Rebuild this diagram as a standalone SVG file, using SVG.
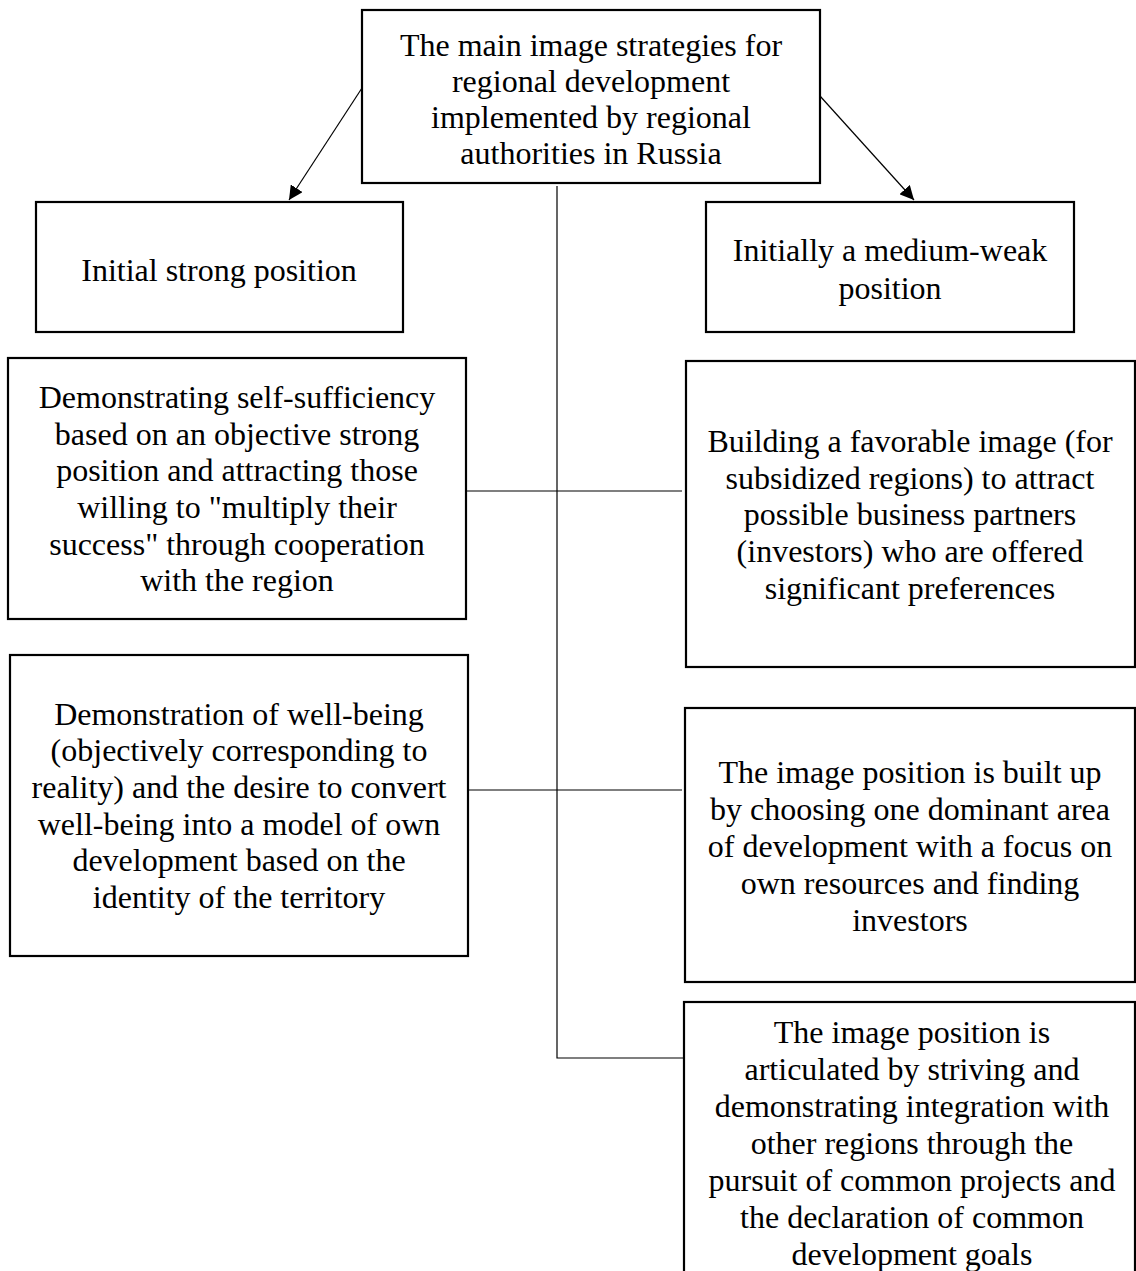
<svg xmlns="http://www.w3.org/2000/svg" width="1136" height="1271" viewBox="0 0 1136 1271">
<style>
.box{fill:#fff;stroke:#000;stroke-width:2.2}
.t{font-family:"Liberation Serif","Times New Roman",serif;font-size:32px;fill:#000;text-anchor:middle}
.c{stroke:#000;stroke-width:1.2;fill:none}
</style>
<defs>
<marker id="ah" viewBox="0 0 10 10" refX="10" refY="5" markerWidth="14" markerHeight="14" markerUnits="userSpaceOnUse" orient="auto">
<path d="M0,0 L10,5 L0,10 Z" fill="#000"/>
</marker>
</defs>
<rect width="1136" height="1271" fill="#fff"/>
<g id="connectors">
<line class="c" x1="362" y1="88" x2="289" y2="200" marker-end="url(#ah)"/>
<line class="c" x1="820" y1="96" x2="914" y2="200" marker-end="url(#ah)"/>
<polyline class="c" points="557,186 557,1058 684,1058"/>
<line class="c" x1="466" y1="491" x2="682" y2="491"/>
<line class="c" x1="468" y1="790" x2="682" y2="790"/>
</g>
<g id="root">
<rect class="box" x="362" y="10" width="458" height="173"/>
<text class="t" x="591" y="56">The main image strategies for</text>
<text class="t" x="591" y="92">regional development</text>
<text class="t" x="591" y="128">implemented by regional</text>
<text class="t" x="591" y="164">authorities in Russia</text>
</g>
<g id="strong">
<rect class="box" x="36" y="202" width="367" height="130"/>
<text class="t" x="219" y="281">Initial strong position</text>
</g>
<g id="weak">
<rect class="box" x="706" y="202" width="368" height="130"/>
<text class="t" x="890" y="261">Initially a medium-weak</text>
<text class="t" x="890" y="299">position</text>
</g>
<g id="s1">
<rect class="box" x="8" y="358" width="458" height="261"/>
<text class="t" x="237" y="408">Demonstrating self-sufficiency</text>
<text class="t" x="237" y="445">based on an objective strong</text>
<text class="t" x="237" y="481">position and attracting those</text>
<text class="t" x="237" y="518">willing to "multiply their</text>
<text class="t" x="237" y="555">success" through cooperation</text>
<text class="t" x="237" y="591">with the region</text>
</g>
<g id="w1">
<rect class="box" x="686" y="361" width="449" height="306"/>
<text class="t" x="910" y="452">Building a favorable image (for</text>
<text class="t" x="910" y="489">subsidized regions) to attract</text>
<text class="t" x="910" y="525">possible business partners</text>
<text class="t" x="910" y="562">(investors) who are offered</text>
<text class="t" x="910" y="599">significant preferences</text>
</g>
<g id="s2">
<rect class="box" x="10" y="655" width="458" height="301"/>
<text class="t" x="239" y="725">Demonstration of well-being</text>
<text class="t" x="239" y="761">(objectively corresponding to</text>
<text class="t" x="239" y="798">reality) and the desire to convert</text>
<text class="t" x="239" y="835">well-being into a model of own</text>
<text class="t" x="239" y="871">development based on the</text>
<text class="t" x="239" y="908">identity of the territory</text>
</g>
<g id="w2">
<rect class="box" x="685" y="708" width="450" height="274"/>
<text class="t" x="910" y="783">The image position is built up</text>
<text class="t" x="910" y="820">by choosing one dominant area</text>
<text class="t" x="910" y="857">of development with a focus on</text>
<text class="t" x="910" y="894">own resources and finding</text>
<text class="t" x="910" y="931">investors</text>
</g>
<g id="w3">
<rect class="box" x="684" y="1002" width="451" height="290"/>
<text class="t" x="912" y="1043">The image position is</text>
<text class="t" x="912" y="1080">articulated by striving and</text>
<text class="t" x="912" y="1117">demonstrating integration with</text>
<text class="t" x="912" y="1154">other regions through the</text>
<text class="t" x="912" y="1191">pursuit of common projects and</text>
<text class="t" x="912" y="1228">the declaration of common</text>
<text class="t" x="912" y="1265">development goals</text>
</g>
</svg>
